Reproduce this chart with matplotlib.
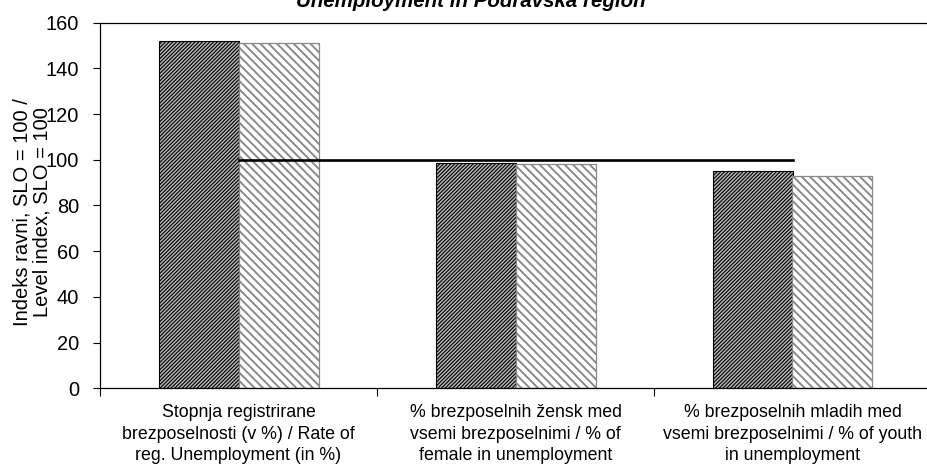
import matplotlib
matplotlib.use("Agg")
import matplotlib.pyplot as plt
import numpy as np

#######################################
#### Data
#######################################
categories = ["Stopnja registrirane\nbrezposelnosti (v %) / Rate of\nreg. Unemployment (in %)",
              "% brezposelnih žensk med\nvsemi brezposelnimi / % of\nfemale in unemployment",
              "% brezposelnih mladih med\nvsemi brezposelnimi / % of youth\nin unemployment"]
series_a = [151.8, 98.7, 95.2]      # dark hatched bars
series_b = [151.2, 98.3, 92.7]      # light hatched bars
slo_level = [100, 100, 100]         # SLO = 100 reference
yticks = [0, 20, 40, 60, 80, 100, 120, 140, 160]
title = "Unemployment in Podravska region"
ylabel = "Indeks ravni, SLO = 100 /\nLevel index, SLO = 100"

#######################################
#### Plot
#######################################
plt.rcParams['font.family'] = ['Liberation Sans', 'DejaVu Sans']

W, H = 928, 465
fig = plt.figure(figsize=(W/100, H/100), dpi=100)
ax_left, ax_top, ax_bottom = 100, 22.7, 388.3
cat_w = 277.0
ax = fig.add_axes([ax_left/W, 1 - ax_bottom/H, (W - ax_left)/W, (ax_bottom - ax_top)/H])

x = np.arange(len(categories))
bw = 80/cat_w

with plt.rc_context({'hatch.linewidth': 0.8}):
   ax.bar(x - bw/2, series_a, bw, facecolor='#b4b4b4', edgecolor='black',
          hatch='/////////', linewidth=0.8, zorder=2)
with plt.rc_context({'hatch.linewidth': 1.4}):
   ax.bar(x + bw/2, series_b, bw, facecolor='white', edgecolor='#8a8a8a',
          hatch='\\\\\\\\', linewidth=0.9, zorder=2)

ax.plot(x, slo_level, color='black', linewidth=1.9, zorder=3)

ax.set_xlim(-0.5, -0.5 + (W - ax_left)/cat_w)
ax.set_ylim(0, 160)
ax.set_yticks(yticks)
ax.tick_params(axis='y', direction='out', length=5, width=0.8, pad=10, labelsize=14.4)

ax.set_xticks([-0.5, 0.5, 1.5])
ax.set_xticklabels([])
ax.set_xticks(x, minor=True)
ax.set_xticklabels(categories, minor=True, fontsize=12.8, linespacing=1.38)
ax.tick_params(axis='x', which='major', direction='out', length=6, width=0.8)
ax.tick_params(axis='x', which='minor', length=0, pad=11)

ax.spines['right'].set_visible(False)
for s in ['left', 'bottom', 'top']:
   ax.spines[s].set_linewidth(0.9)

fig.text(32/W, 1 - 212/H, ylabel, rotation=90, ha='center', va='center',
         multialignment='center', fontsize=14.5, linespacing=1.06)
fig.text(471/W, 1 - 7/H, title, ha='center', va='baseline',
         fontsize=14.8, fontweight='bold', fontstyle='italic')

fig.savefig("out.png", dpi=100)
